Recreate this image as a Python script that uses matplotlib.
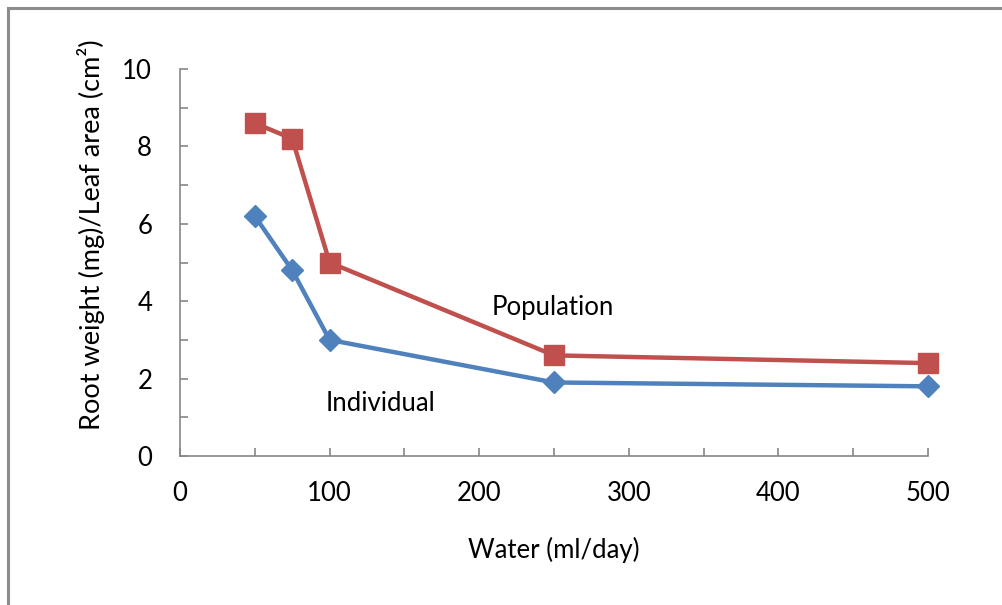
import matplotlib.pyplot as plt
from matplotlib.patches import Rectangle

plt.rcParams['font.family'] = ['Lato', 'DejaVu Sans']

water = [50, 75, 100, 250, 500]
population = [8.6, 8.2, 5.0, 2.6, 2.4]
individual = [6.2, 4.8, 3.0, 1.9, 1.8]

W, H = 1003, 605
fig = plt.figure(figsize=(W / 100, H / 100), dpi=100)
ax = fig.add_axes([180 / W, 1 - 456 / H, (928 - 180) / W, (456 - 69) / H])

# outer chart frame (only left/top visible in the crop)
fig.patches.append(Rectangle((8 / W, -0.1), 1.2, 1 - 8 / H + 0.1, transform=fig.transFigure,
                             fill=False, edgecolor='#8c8c8c', linewidth=2.2))

ax.plot(water, population, color='#C0504D', lw=3.2, marker='s', ms=14, zorder=3, clip_on=False)
ax.plot(water, individual, color='#4F81BD', lw=3.2, marker='D', ms=11, zorder=3, clip_on=False)

fs = 18.5
ax.text(249, 3.85, 'Population', fontsize=fs, ha='center', va='center')
ax.text(134, 1.35, 'Individual', fontsize=fs, ha='center', va='center')

ax.set_xlim(0, 500)
ax.set_ylim(0, 10)
ax.set_xticks(range(0, 501, 100))
ax.set_xticks(range(50, 500, 100), minor=True)
ax.set_yticks(range(0, 11, 2))
ax.set_yticks(range(1, 10, 2), minor=True)
for s in ['top', 'right']:
    ax.spines[s].set_visible(False)
for s in ['left', 'bottom']:
    ax.spines[s].set_color('#868686')
    ax.spines[s].set_linewidth(1.2)
ax.tick_params(which='both', direction='in', color='#868686', width=1.2, length=6,
               labelsize=fs, labelcolor='black')
ax.tick_params(axis='x', pad=18)
ax.tick_params(axis='y', pad=20)

ax.set_xlabel('Water (ml/day)', fontsize=fs, labelpad=22)
ax.set_ylabel('Root weight (mg)/Leaf area (cm²)', fontsize=19.5, va='center')
ax.yaxis.set_label_coords((91 - 180) / 748, (456 - 235) / 387)

fig.savefig('out.png', dpi=100)
